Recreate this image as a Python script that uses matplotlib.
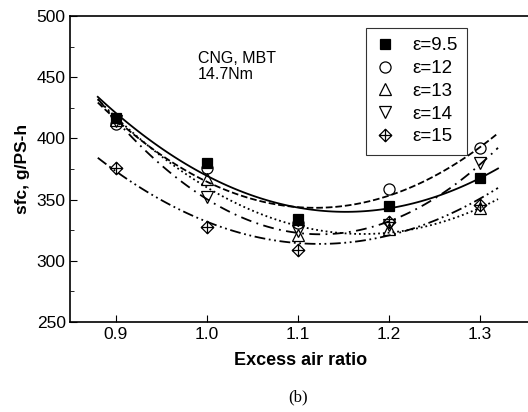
import numpy as np
import matplotlib
matplotlib.use("Agg")
import matplotlib.pyplot as plt
from matplotlib.path import Path
from matplotlib.ticker import MultipleLocator

plt.rcParams['font.family'] = ['Liberation Sans', 'DejaVu Sans']

# excess air ratio and sfc values per compression ratio
lam = [0.9, 1.0, 1.1, 1.2, 1.3]
sfc_95 = [417, 380, 334, 345, 368]
sfc_12 = [412, 376, 331, 359, 392]
sfc_13 = [415, 367, 321, 326, 343]
sfc_14 = [414, 352, 324, 329, 380]
sfc_15 = [376, 328, 309, 332, 346]
labels = ['ε=9.5', 'ε=12', 'ε=13', 'ε=14', 'ε=15']

# crossed diamond marker
cross_diamond = Path(
    [(0, 1), (1, 0), (0, -1), (-1, 0), (0, 1), (-1, 0), (1, 0), (0, -1), (0, 1)],
    [Path.MOVETO, Path.LINETO, Path.LINETO, Path.LINETO, Path.CLOSEPOLY,
     Path.MOVETO, Path.LINETO, Path.MOVETO, Path.LINETO])

series = [
    (sfc_95, 's', 'k', '-', 7),
    (sfc_12, 'o', 'none', '--', 8),
    (sfc_13, '^', 'none', ':', 8),
    (sfc_14, 'v', 'none', (0, (6, 3, 1, 3)), 9),
    (sfc_15, cross_diamond, 'none', (0, (6, 2, 1, 2, 1, 2)), 9),
]

fig = plt.figure(figsize=(5.28, 4.12), dpi=100)
ax = fig.add_axes([0.1335, 0.2184, 0.870, 0.7427])

# quadratic fit curves + measured points
xf = np.linspace(0.88, 1.32, 100)
handles = []
for (y, m, fc, ls, ms), lab in zip(series, labels):
    coef = np.polyfit(lam, y, 2)
    ax.plot(xf, np.polyval(coef, xf), color='k', ls=ls, lw=1.3)
    h, = ax.plot(lam, y, ls='none', marker=m, ms=ms, mfc=fc, mec='k',
                 mew=0.9, label=lab)
    handles.append(h)

ax.set_xlim(0.85, 1.355)
ax.set_ylim(250, 500)
ax.set_xticks([0.9, 1.0, 1.1, 1.2, 1.3])
ax.yaxis.set_major_locator(MultipleLocator(50))
ax.yaxis.set_minor_locator(MultipleLocator(25))
ax.tick_params(direction='in', labelsize=12.5, length=5)
ax.tick_params(which='minor', direction='in', length=3)
ax.spines['right'].set_visible(False)
for s in ax.spines.values():
    s.set_linewidth(1.2)

ax.set_xlabel('Excess air ratio', fontsize=13, fontweight='bold', labelpad=7)
ax.set_ylabel('sfc, g/PS-h', fontsize=12.5, fontweight='bold', labelpad=5)

ax.text(0.277, 0.885, 'CNG, MBT\n14.7Nm', transform=ax.transAxes,
        fontsize=11.5, va='top', ha='left', linespacing=1.05)

leg = ax.legend(handles=handles, loc='upper left', bbox_to_anchor=(0.643, 0.961),
                borderaxespad=0, fontsize=13.5, frameon=True, fancybox=False,
                handlelength=1.0, handletextpad=1.0, labelspacing=0.3,
                borderpad=0.5, edgecolor='k')
leg.get_frame().set_linewidth(0.8)

fig.text(0.565, 0.035, '(b)', fontsize=12, family='Liberation Serif',
         ha='center', va='center')

fig.savefig('out.png', dpi=100)
